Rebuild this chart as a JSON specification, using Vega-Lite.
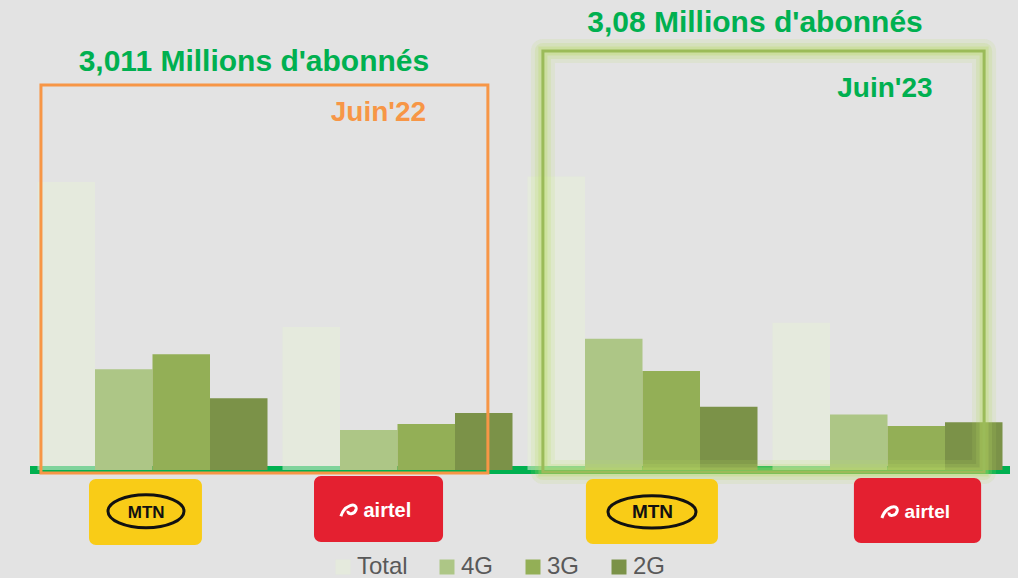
{
  "$schema": "https://vega.github.io/schema/vega-lite/v6.json",
  "width": 980,
  "height": 470,
  "autosize": {"type": "none"},
  "padding": {"left": 30, "top": 0, "right": 8, "bottom": 108},
  "background": "#e3e3e3",
  "config": {
    "view": {"stroke": null},
    "legend": {
      "orient": "none",
      "legendX": 301,
      "legendY": 555,
      "direction": "horizontal",
      "symbolType": "square",
      "symbolSize": 225,
      "symbolStrokeWidth": 0,
      "labelFont": "Liberation Sans",
      "labelFontSize": 24,
      "labelColor": "#595959",
      "labelOffset": 2,
      "columnPadding": 27,
      "padding": 0,
      "title": null
    }
  },
  "data": {"values": [{"annotation": 1}]},
  "layer": [
    {
      "mark": {"type": "rule", "color": "#00b050", "strokeWidth": 8},
      "encoding": {"y": {"datum": 0, "type": "quantitative", "axis": null, "scale": {"domain": [0, 3283], "nice": false, "zero": false}}}
    },
    {
      "data": {
        "values": [
          {"groupe": "MTN 22", "serie": "Total", "abonnes": 2012},
          {"groupe": "MTN 22", "serie": "4G", "abonnes": 703},
          {"groupe": "MTN 22", "serie": "3G", "abonnes": 808},
          {"groupe": "MTN 22", "serie": "2G", "abonnes": 501},
          {"groupe": "Airtel 22", "serie": "Total", "abonnes": 999},
          {"groupe": "Airtel 22", "serie": "4G", "abonnes": 280},
          {"groupe": "Airtel 22", "serie": "3G", "abonnes": 321},
          {"groupe": "Airtel 22", "serie": "2G", "abonnes": 398},
          {"groupe": "MTN 23", "serie": "Total", "abonnes": 2051},
          {"groupe": "MTN 23", "serie": "4G", "abonnes": 917},
          {"groupe": "MTN 23", "serie": "3G", "abonnes": 692},
          {"groupe": "MTN 23", "serie": "2G", "abonnes": 442},
          {"groupe": "Airtel 23", "serie": "Total", "abonnes": 1029},
          {"groupe": "Airtel 23", "serie": "4G", "abonnes": 388},
          {"groupe": "Airtel 23", "serie": "3G", "abonnes": 307},
          {"groupe": "Airtel 23", "serie": "2G", "abonnes": 334}
        ]
      },
      "mark": {"type": "bar"},
      "encoding": {
        "x": {
          "field": "groupe",
          "type": "nominal",
          "axis": null,
          "scale": {
            "domain": ["MTN 22", "Airtel 22", "MTN 23", "Airtel 23"],
            "paddingInner": 0.0612,
            "paddingOuter": 0.0306
          }
        },
        "y": {
          "field": "abonnes",
          "type": "quantitative",
          "axis": null,
          "scale": {"domain": [0, 3283], "nice": false, "zero": false}
        },
        "xOffset": {
          "field": "serie",
          "type": "nominal",
          "scale": {"domain": ["Total", "4G", "3G", "2G"], "paddingInner": 0, "paddingOuter": 0}
        },
        "color": {
          "field": "serie",
          "type": "nominal",
          "sort": ["Total", "4G", "3G", "2G"],
          "scale": {
            "domain": ["Total", "4G", "3G", "2G"],
            "range": ["rgba(232,241,217,0.55)", "#adc686", "#93af56", "#7b9248"]
          }
        }
      }
    },
    {
      "mark": {"type": "rect", "fill": "rgba(0,0,0,0)", "stroke": "#f79646", "strokeWidth": 3},
      "encoding": {
        "x": {"datum": "MTN 22", "bandPosition": 0.015},
        "x2": {"datum": "Airtel 22", "bandPosition": 0.893},
        "y": {"datum": 2690},
        "y2": {"datum": -21}
      }
    },
    {
      "mark": {"type": "rect", "fill": "rgba(0,0,0,0)", "stroke": "rgba(185,220,100,0.14)", "strokeWidth": 24, "strokeJoin": "round"},
      "encoding": {
        "x": {"datum": "MTN 23", "bandPosition": 0.067},
        "x2": {"datum": "Airtel 23", "bandPosition": 0.92},
        "y": {"datum": 2927},
        "y2": {"datum": -14}
      }
    },
    {
      "mark": {"type": "rect", "fill": "rgba(0,0,0,0)", "stroke": "rgba(185,220,100,0.2)", "strokeWidth": 16, "strokeJoin": "round"},
      "encoding": {
        "x": {"datum": "MTN 23", "bandPosition": 0.067},
        "x2": {"datum": "Airtel 23", "bandPosition": 0.92},
        "y": {"datum": 2927},
        "y2": {"datum": -14}
      }
    },
    {
      "mark": {"type": "rect", "fill": "rgba(0,0,0,0)", "stroke": "rgba(185,220,100,0.3)", "strokeWidth": 9},
      "encoding": {
        "x": {"datum": "MTN 23", "bandPosition": 0.067},
        "x2": {"datum": "Airtel 23", "bandPosition": 0.92},
        "y": {"datum": 2927},
        "y2": {"datum": -14}
      }
    },
    {
      "mark": {"type": "rect", "fill": "rgba(0,0,0,0)", "stroke": "#9bbb59", "strokeWidth": 3},
      "encoding": {
        "x": {"datum": "MTN 23", "bandPosition": 0.067},
        "x2": {"datum": "Airtel 23", "bandPosition": 0.92},
        "y": {"datum": 2927},
        "y2": {"datum": -14}
      }
    },
    {
      "mark": {"type": "text", "text": "3,011 Millions d'abonnés", "font": "Liberation Sans", "fontWeight": "bold", "fontSize": 30, "color": "#00b050", "align": "center", "baseline": "alphabetic"},
      "encoding": {"x": {"datum": "MTN 22", "bandPosition": 0.941}, "y": {"datum": 2787}}
    },
    {
      "mark": {"type": "text", "text": "3,08 Millions d'abonnés", "font": "Liberation Sans", "fontWeight": "bold", "fontSize": 30, "color": "#00b050", "align": "center", "baseline": "alphabetic"},
      "encoding": {"x": {"datum": "MTN 23", "bandPosition": 0.989}, "y": {"datum": 3060}}
    },
    {
      "mark": {"type": "text", "text": "Juin'22", "font": "Liberation Sans", "fontWeight": "bold", "fontSize": 28, "color": "#f79646", "align": "center", "baseline": "alphabetic"},
      "encoding": {"x": {"datum": "Airtel 22", "bandPosition": 0.417}, "y": {"datum": 2438}}
    },
    {
      "mark": {"type": "text", "text": "Juin'23", "font": "Liberation Sans", "fontWeight": "bold", "fontSize": 28, "color": "#00b050", "align": "center", "baseline": "alphabetic"},
      "encoding": {"x": {"datum": "Airtel 23", "bandPosition": 0.489}, "y": {"datum": 2606}}
    },
    {
      "mark": {"type": "rect", "fill": "#f9cc17", "cornerRadius": 7},
      "encoding": {
        "x": {"datum": "MTN 22", "bandPosition": 0.224},
        "x2": {"datum": "MTN 22", "bandPosition": 0.715},
        "y": {"datum": -63},
        "y2": {"datum": -524}
      }
    },
    {
      "mark": {"type": "rect", "fill": "#e42030", "cornerRadius": 7},
      "encoding": {
        "x": {"datum": "Airtel 22", "bandPosition": 0.137},
        "x2": {"datum": "Airtel 22", "bandPosition": 0.698},
        "y": {"datum": -42},
        "y2": {"datum": -503}
      }
    },
    {
      "mark": {"type": "rect", "fill": "#f9cc17", "cornerRadius": 7},
      "encoding": {
        "x": {"datum": "MTN 23", "bandPosition": 0.254},
        "x2": {"datum": "MTN 23", "bandPosition": 0.828},
        "y": {"datum": -63},
        "y2": {"datum": -517}
      }
    },
    {
      "mark": {"type": "rect", "fill": "#e42030", "cornerRadius": 7},
      "encoding": {
        "x": {"datum": "Airtel 23", "bandPosition": 0.354},
        "x2": {"datum": "Airtel 23", "bandPosition": 0.907},
        "y": {"datum": -56},
        "y2": {"datum": -510}
      }
    },
    {
      "mark": {"type": "point", "shape": "M -1 0 A 1 0.434 0 1 0 1 0 A 1 0.434 0 1 0 -1 0 Z", "size": 5776, "filled": false, "stroke": "#111111", "strokeWidth": 3, "opacity": 1},
      "encoding": {"x": {"datum": "MTN 22", "bandPosition": 0.4717}, "y": {"datum": -288}}
    },
    {
      "mark": {"type": "point", "shape": "M -1 0 A 1 0.367 0 1 0 1 0 A 1 0.367 0 1 0 -1 0 Z", "size": 7744, "filled": false, "stroke": "#111111", "strokeWidth": 3, "opacity": 1},
      "encoding": {"x": {"datum": "MTN 23", "bandPosition": 0.5413}, "y": {"datum": -293}}
    },
    {
      "mark": {"type": "text", "text": "MTN", "font": "Liberation Sans", "fontWeight": "bold", "fontSize": 17, "color": "#111111", "align": "center", "baseline": "alphabetic"},
      "encoding": {"x": {"datum": "MTN 22", "bandPosition": 0.4726}, "y": {"datum": -335}}
    },
    {
      "mark": {"type": "text", "text": "MTN", "font": "Liberation Sans", "fontWeight": "bold", "fontSize": 19, "color": "#111111", "align": "center", "baseline": "alphabetic"},
      "encoding": {"x": {"datum": "MTN 23", "bandPosition": 0.5435}, "y": {"datum": -337}}
    },
    {
      "mark": {"type": "text", "text": "airtel", "font": "Liberation Sans", "fontWeight": "bold", "fontSize": 20, "color": "white", "align": "center", "baseline": "alphabetic"},
      "encoding": {"x": {"datum": "Airtel 22", "bandPosition": 0.456}, "y": {"datum": -326}}
    },
    {
      "mark": {"type": "text", "text": "airtel", "font": "Liberation Sans", "fontWeight": "bold", "fontSize": 19, "color": "white", "align": "center", "baseline": "alphabetic"},
      "encoding": {"x": {"datum": "Airtel 23", "bandPosition": 0.673}, "y": {"datum": -335}}
    },
    {
      "mark": {"type": "point", "shape": "M -0.9 0.7 C -0.5 -0.6 0.9 -0.9 0.8 -0.1 C 0.7 0.5 -0.2 0.6 -0.1 0.1", "size": 324, "filled": false, "stroke": "white", "strokeWidth": 3, "opacity": 1},
      "encoding": {"x": {"datum": "Airtel 22", "bandPosition": 0.289}, "y": {"datum": -279}}
    },
    {
      "mark": {"type": "point", "shape": "M -0.9 0.7 C -0.5 -0.6 0.9 -0.9 0.8 -0.1 C 0.7 0.5 -0.2 0.6 -0.1 0.1", "size": 324, "filled": false, "stroke": "white", "strokeWidth": 3, "opacity": 1},
      "encoding": {"x": {"datum": "Airtel 23", "bandPosition": 0.511}, "y": {"datum": -291}}
    }
  ]
}
